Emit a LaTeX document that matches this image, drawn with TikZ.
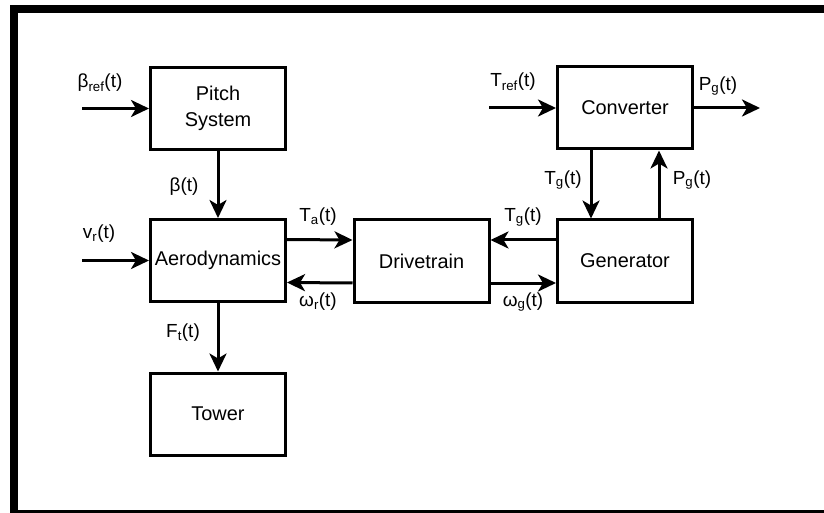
\documentclass[tikz,border=0pt]{standalone}
\usepackage{fontspec}
\setmainfont{Liberation Sans}
\usetikzlibrary{arrows.meta}
\begin{document}
\begin{tikzpicture}[x=1bp,y=-1bp,
  blk/.style={draw, line width=3bp, minimum width=135bp, minimum height=82bp, inner sep=0pt, align=center, font=\fontsize{20}{26}\selectfont},
  sig/.style={line width=3bp, -{Stealth[length=18bp,width=17bp,inset=5bp]}},
  lbl/.style={inner sep=0pt, font=\fontsize{19}{21}\selectfont}]
\useasboundingbox (0,0) rectangle (824,513);
\draw[line width=8bp] (13.5,9) rectangle (850,514);
% blocks
\node[blk] (pitch) at (218,108.5) {Pitch\\System};
\node[blk] (aero) at (218,260.5) {Aerodynamics};
\node[blk] (tower) at (218,414) {Tower};
\node[blk] (drive) at (421.5,261) {Drivetrain};
\node[blk] (conv) at (625,108) {Converter};
\node[blk] (gen) at (625,261) {Generator};
% free ends
\coordinate (bin) at (82,108.5);
\coordinate (vin) at (82,260.5);
\coordinate (tin) at (489,108);
\coordinate (pout) at (760,108);
% connectors
\draw[sig] (bin) -- (pitch.west);
\draw[sig] (vin) -- (aero.west);
\draw[sig] (pitch.south) -- (aero.north);
\draw[sig] (aero.south) -- (tower.north);
\draw[sig] ([yshift=21bp]aero.east) -- ([yshift=21bp]drive.west);
\draw[sig] ([yshift=-22bp]drive.west) -- ([yshift=-22bp]aero.east);
\draw[sig] ([yshift=21bp]gen.west) -- ([yshift=21bp]drive.east);
\draw[sig] ([yshift=-22bp]drive.east) -- ([yshift=-22bp]gen.west);
\draw[sig] (tin) -- (conv.west);
\draw[sig] (conv.east) -- (pout);
\draw[sig] ([xshift=-34bp]conv.south) -- ([xshift=-34bp]gen.north);
\draw[sig] ([xshift=34bp]gen.north) -- ([xshift=34bp]conv.south);
% labels
\node[lbl] (lbref) at (100,83) {β\textsubscript{ref}(t)};
\node[lbl] (lvr) at (99,234) {v\textsubscript{r}(t)};
\node[lbl] (lb) at (184,187) {β(t)};
\node[lbl] (lta) at (318,217) {T\textsubscript{a}(t)};
\node[lbl] (lwr) at (318,302) {ω\textsubscript{r}(t)};
\node[lbl] (ltg) at (523,217) {T\textsubscript{g}(t)};
\node[lbl] (lwg) at (523,302) {ω\textsubscript{g}(t)};
\node[lbl] (ltref) at (513,82) {T\textsubscript{ref}(t)};
\node[lbl] (lpout) at (718,86) {P\textsubscript{g}(t)};
\node[lbl] (ltgv) at (563,180) {T\textsubscript{g}(t)};
\node[lbl] (lpgv) at (692,180) {P\textsubscript{g}(t)};
\node[lbl] (lft) at (183,333) {F\textsubscript{t}(t)};
\end{tikzpicture}
\end{document}
